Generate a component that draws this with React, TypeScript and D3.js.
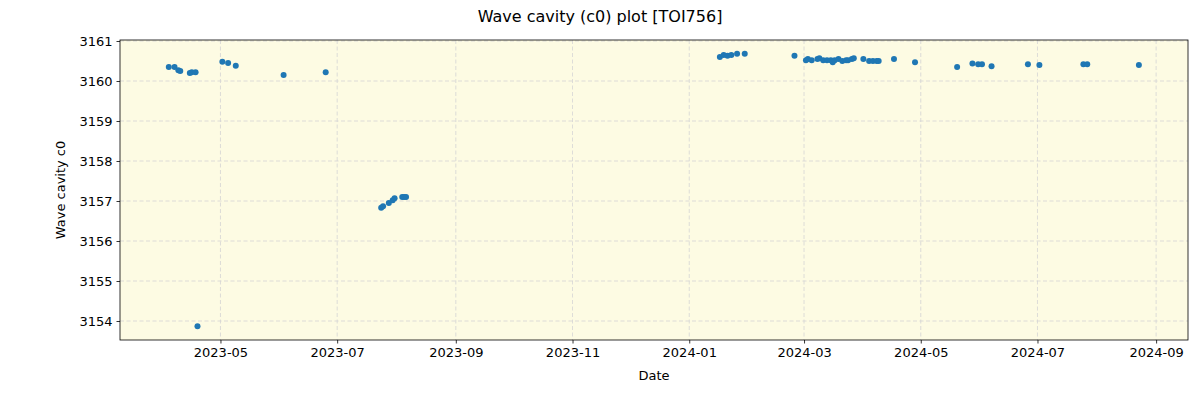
// import d3 and react hooks
import * as d3 from "d3";
import { useRef, useEffect } from "react";

// observation dates of the wave cavity measurements
const dates: string[] = [
  "2023-04-04", "2023-04-07", "2023-04-09", "2023-04-10", "2023-04-15", "2023-04-16", "2023-04-18",
  "2023-04-19", "2023-05-02", "2023-05-05", "2023-05-09", "2023-06-03", "2023-06-25",
  "2023-07-24", "2023-07-25", "2023-07-28", "2023-07-30", "2023-07-31", "2023-08-04", "2023-08-05", "2023-08-06",
  "2024-01-17", "2024-01-19", "2024-01-21", "2024-01-23", "2024-01-26", "2024-01-30", "2024-02-25",
  "2024-03-02", "2024-03-03", "2024-03-05", "2024-03-08", "2024-03-09", "2024-03-11", "2024-03-13",
  "2024-03-15", "2024-03-16", "2024-03-17", "2024-03-19", "2024-03-21", "2024-03-23", "2024-03-24",
  "2024-03-26", "2024-03-27", "2024-04-01", "2024-04-04", "2024-04-06", "2024-04-08", "2024-04-09",
  "2024-04-17", "2024-04-28", "2024-05-20", "2024-05-28", "2024-05-31", "2024-06-02", "2024-06-07",
  "2024-06-26", "2024-07-02", "2024-07-25", "2024-07-27", "2024-08-23",
];

// wave cavity c0 values, one per date
const c0: number[] = [
  3160.35, 3160.35, 3160.27, 3160.25, 3160.2, 3160.22, 3160.22,
  3153.87, 3160.48, 3160.45, 3160.38, 3160.15, 3160.22,
  3156.83, 3156.87, 3156.95, 3157.02, 3157.07, 3157.1, 3157.1, 3157.1,
  3160.6, 3160.65, 3160.63, 3160.65, 3160.68, 3160.68, 3160.63,
  3160.52, 3160.55, 3160.52, 3160.55, 3160.57, 3160.52, 3160.52,
  3160.52, 3160.47, 3160.52, 3160.55, 3160.5, 3160.52, 3160.52,
  3160.55, 3160.57, 3160.55, 3160.5, 3160.5, 3160.5, 3160.5,
  3160.55, 3160.47, 3160.35, 3160.44, 3160.42, 3160.42, 3160.37,
  3160.42, 3160.4, 3160.42, 3160.42, 3160.4,
];

// y tick values
const yTicks: number[] = [3154, 3155, 3156, 3157, 3158, 3159, 3160, 3161];

// x domain ends
const xStart = "2023-03-09T12:00";
const xEnd = "2024-09-17T16:00";

export default function App() {
  const svgRef = useRef<SVGSVGElement>(null);

  useEffect(() => {
    const svg = d3.select(svgRef.current);
    svg.selectAll("*").remove();

    const width = 1200;
    const height = 400;
    const margin = { top: 40, right: 12, bottom: 60, left: 120 };
    const innerW = width - margin.left - margin.right;
    const innerH = height - margin.top - margin.bottom;
    const font = "DejaVu Sans, sans-serif";

    const parse = d3.timeParse("%Y-%m-%d");
    const data = dates.map((d, i) => ({ date: parse(d) as Date, value: c0[i] }));

    // scales
    const x = d3.scaleTime()
      .domain([new Date(xStart), new Date(xEnd)])
      .range([0, innerW]);
    const y = d3.scaleLinear().domain([3153.525, 3161.025]).range([innerH, 0]);

    const xTicks = d3.timeMonth.every(2)!.range(new Date(2023, 4, 1), new Date(2024, 9, 1));

    // title
    svg.append("text")
      .attr("x", width / 2).attr("y", 22)
      .attr("text-anchor", "middle")
      .style("font-family", font).style("font-size", "16px")
      .text("Wave cavity (c0) plot [TOI756]");

    const g = svg.append("g").attr("transform", `translate(${margin.left},${margin.top})`);

    // background
    g.append("rect").attr("width", innerW).attr("height", innerH).attr("fill", "#fdfbe3");

    // grid lines
    g.append("g").selectAll("line").data(xTicks).join("line")
      .attr("x1", d => x(d)).attr("x2", d => x(d))
      .attr("y1", 0).attr("y2", innerH)
      .attr("stroke", "#d4d4d4").attr("stroke-dasharray", "4,2.5").attr("stroke-width", 0.8);
    g.append("g").selectAll("line").data(yTicks).join("line")
      .attr("x1", 0).attr("x2", innerW)
      .attr("y1", d => y(d)).attr("y2", d => y(d))
      .attr("stroke", "#d4d4d4").attr("stroke-dasharray", "4,2.5").attr("stroke-width", 0.8);

    // points
    g.append("g").selectAll("circle").data(data).join("circle")
      .attr("cx", d => x(d.date)).attr("cy", d => y(d.value))
      .attr("r", 3).attr("fill", "#1f77b4");

    // frame
    g.append("rect").attr("width", innerW).attr("height", innerH)
      .attr("fill", "none").attr("stroke", "black").attr("stroke-width", 0.8);

    // axes
    const xAxis = g.append("g").attr("transform", `translate(0,${innerH})`)
      .call(d3.axisBottom(x).tickValues(xTicks).tickFormat(d3.timeFormat("%Y-%m") as any).tickSizeOuter(0).tickSize(3.5).tickPadding(4));
    const yAxis = g.append("g")
      .call(d3.axisLeft(y).tickValues(yTicks).tickFormat(d3.format("d")).tickSizeOuter(0).tickSize(3.5).tickPadding(4));
    [xAxis, yAxis].forEach(a => {
      a.select(".domain").remove();
      a.selectAll("text").style("font-family", font).style("font-size", "13px").attr("fill", "black");
      a.selectAll("line").attr("stroke", "black").attr("stroke-width", 0.8);
    });

    // axis labels
    g.append("text")
      .attr("x", innerW / 2).attr("y", innerH + 40)
      .attr("text-anchor", "middle")
      .style("font-family", font).style("font-size", "13px")
      .text("Date");
    g.append("text")
      .attr("transform", "rotate(-90)")
      .attr("x", -innerH / 2).attr("y", -55)
      .attr("text-anchor", "middle")
      .style("font-family", font).style("font-size", "13px")
      .text("Wave cavity c0");
  }, []);

  return (
    <svg ref={svgRef} width={1200} height={400} style={{ position: "absolute", left: 0, top: 0 }} />
  );
}
